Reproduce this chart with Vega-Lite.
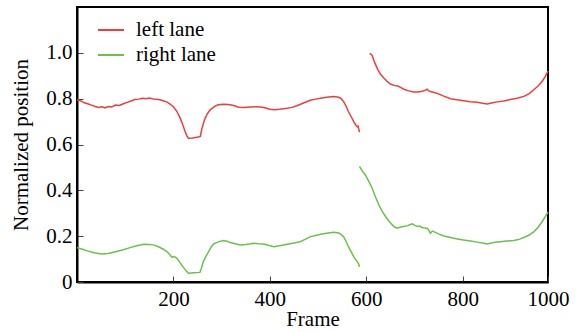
{
  "$schema": "https://vega.github.io/schema/vega-lite/v6.json",
  "width": 471,
  "height": 275,
  "autosize": {"type": "none"},
  "padding": {"left": 77, "top": 7, "right": 36, "bottom": 50},
  "background": "white",
  "config": {
    "font": "Liberation Serif",
    "view": {"stroke": "#000", "strokeWidth": 2},
    "axis": {
      "labelFont": "Liberation Serif",
      "titleFont": "Liberation Serif",
      "labelFontSize": 21,
      "titleFontSize": 21,
      "titleFontWeight": "normal",
      "labelColor": "#000",
      "titleColor": "#000",
      "domainColor": "#000",
      "domainWidth": 2,
      "tickColor": "#444",
      "tickWidth": 1,
      "tickSize": -6,
      "grid": false
    },
    "legend": {
      "labelFont": "Liberation Serif",
      "labelFontSize": 21,
      "labelColor": "#000"
    }
  },
  "data": {
    "values": [
      {"lane": "left lane", "seg": "a", "frame": 0, "pos": 0.795},
      {"lane": "left lane", "seg": "a", "frame": 8, "pos": 0.79},
      {"lane": "left lane", "seg": "a", "frame": 15, "pos": 0.782},
      {"lane": "left lane", "seg": "a", "frame": 22, "pos": 0.778},
      {"lane": "left lane", "seg": "a", "frame": 30, "pos": 0.772},
      {"lane": "left lane", "seg": "a", "frame": 38, "pos": 0.766},
      {"lane": "left lane", "seg": "a", "frame": 45, "pos": 0.762},
      {"lane": "left lane", "seg": "a", "frame": 52, "pos": 0.765},
      {"lane": "left lane", "seg": "a", "frame": 58, "pos": 0.76},
      {"lane": "left lane", "seg": "a", "frame": 65, "pos": 0.766},
      {"lane": "left lane", "seg": "a", "frame": 72, "pos": 0.764},
      {"lane": "left lane", "seg": "a", "frame": 80, "pos": 0.772},
      {"lane": "left lane", "seg": "a", "frame": 88, "pos": 0.77},
      {"lane": "left lane", "seg": "a", "frame": 96, "pos": 0.778},
      {"lane": "left lane", "seg": "a", "frame": 104, "pos": 0.784},
      {"lane": "left lane", "seg": "a", "frame": 112, "pos": 0.79},
      {"lane": "left lane", "seg": "a", "frame": 120, "pos": 0.796},
      {"lane": "left lane", "seg": "a", "frame": 128, "pos": 0.798},
      {"lane": "left lane", "seg": "a", "frame": 136, "pos": 0.802},
      {"lane": "left lane", "seg": "a", "frame": 143, "pos": 0.8},
      {"lane": "left lane", "seg": "a", "frame": 150, "pos": 0.803},
      {"lane": "left lane", "seg": "a", "frame": 158, "pos": 0.799},
      {"lane": "left lane", "seg": "a", "frame": 165, "pos": 0.797},
      {"lane": "left lane", "seg": "a", "frame": 172, "pos": 0.795},
      {"lane": "left lane", "seg": "a", "frame": 180, "pos": 0.79},
      {"lane": "left lane", "seg": "a", "frame": 187, "pos": 0.785},
      {"lane": "left lane", "seg": "a", "frame": 193, "pos": 0.776},
      {"lane": "left lane", "seg": "a", "frame": 200, "pos": 0.765},
      {"lane": "left lane", "seg": "a", "frame": 207, "pos": 0.745},
      {"lane": "left lane", "seg": "a", "frame": 214, "pos": 0.715},
      {"lane": "left lane", "seg": "a", "frame": 220, "pos": 0.683},
      {"lane": "left lane", "seg": "a", "frame": 224, "pos": 0.658},
      {"lane": "left lane", "seg": "a", "frame": 228, "pos": 0.638},
      {"lane": "left lane", "seg": "a", "frame": 231, "pos": 0.627},
      {"lane": "left lane", "seg": "a", "frame": 240, "pos": 0.628},
      {"lane": "left lane", "seg": "a", "frame": 252, "pos": 0.633},
      {"lane": "left lane", "seg": "a", "frame": 256, "pos": 0.636},
      {"lane": "left lane", "seg": "a", "frame": 259, "pos": 0.668},
      {"lane": "left lane", "seg": "a", "frame": 264, "pos": 0.705},
      {"lane": "left lane", "seg": "a", "frame": 269, "pos": 0.729},
      {"lane": "left lane", "seg": "a", "frame": 275, "pos": 0.748},
      {"lane": "left lane", "seg": "a", "frame": 280, "pos": 0.758},
      {"lane": "left lane", "seg": "a", "frame": 287, "pos": 0.768},
      {"lane": "left lane", "seg": "a", "frame": 293, "pos": 0.773},
      {"lane": "left lane", "seg": "a", "frame": 304, "pos": 0.776},
      {"lane": "left lane", "seg": "a", "frame": 314, "pos": 0.775},
      {"lane": "left lane", "seg": "a", "frame": 325, "pos": 0.77},
      {"lane": "left lane", "seg": "a", "frame": 335, "pos": 0.763},
      {"lane": "left lane", "seg": "a", "frame": 347, "pos": 0.762},
      {"lane": "left lane", "seg": "a", "frame": 359, "pos": 0.764},
      {"lane": "left lane", "seg": "a", "frame": 370, "pos": 0.765},
      {"lane": "left lane", "seg": "a", "frame": 380, "pos": 0.764},
      {"lane": "left lane", "seg": "a", "frame": 390, "pos": 0.76},
      {"lane": "left lane", "seg": "a", "frame": 400, "pos": 0.754},
      {"lane": "left lane", "seg": "a", "frame": 410, "pos": 0.752},
      {"lane": "left lane", "seg": "a", "frame": 420, "pos": 0.754},
      {"lane": "left lane", "seg": "a", "frame": 436, "pos": 0.758},
      {"lane": "left lane", "seg": "a", "frame": 446, "pos": 0.762},
      {"lane": "left lane", "seg": "a", "frame": 456, "pos": 0.769},
      {"lane": "left lane", "seg": "a", "frame": 470, "pos": 0.781},
      {"lane": "left lane", "seg": "a", "frame": 484, "pos": 0.793},
      {"lane": "left lane", "seg": "a", "frame": 495, "pos": 0.798},
      {"lane": "left lane", "seg": "a", "frame": 505, "pos": 0.802},
      {"lane": "left lane", "seg": "a", "frame": 518, "pos": 0.806},
      {"lane": "left lane", "seg": "a", "frame": 532, "pos": 0.809},
      {"lane": "left lane", "seg": "a", "frame": 543, "pos": 0.806},
      {"lane": "left lane", "seg": "a", "frame": 548, "pos": 0.8},
      {"lane": "left lane", "seg": "a", "frame": 553, "pos": 0.787},
      {"lane": "left lane", "seg": "a", "frame": 558, "pos": 0.768},
      {"lane": "left lane", "seg": "a", "frame": 563, "pos": 0.744},
      {"lane": "left lane", "seg": "a", "frame": 569, "pos": 0.72},
      {"lane": "left lane", "seg": "a", "frame": 574, "pos": 0.7},
      {"lane": "left lane", "seg": "a", "frame": 578, "pos": 0.686},
      {"lane": "left lane", "seg": "a", "frame": 581, "pos": 0.678},
      {"lane": "left lane", "seg": "a", "frame": 583, "pos": 0.68},
      {"lane": "left lane", "seg": "a", "frame": 586, "pos": 0.654},
      {"lane": "left lane", "seg": "b", "frame": 607, "pos": 0.997},
      {"lane": "left lane", "seg": "b", "frame": 609, "pos": 0.995},
      {"lane": "left lane", "seg": "b", "frame": 612, "pos": 0.99},
      {"lane": "left lane", "seg": "b", "frame": 618, "pos": 0.955},
      {"lane": "left lane", "seg": "b", "frame": 624, "pos": 0.927},
      {"lane": "left lane", "seg": "b", "frame": 630, "pos": 0.905},
      {"lane": "left lane", "seg": "b", "frame": 636, "pos": 0.891},
      {"lane": "left lane", "seg": "b", "frame": 643, "pos": 0.876},
      {"lane": "left lane", "seg": "b", "frame": 650, "pos": 0.864},
      {"lane": "left lane", "seg": "b", "frame": 658, "pos": 0.858},
      {"lane": "left lane", "seg": "b", "frame": 667, "pos": 0.854},
      {"lane": "left lane", "seg": "b", "frame": 672, "pos": 0.848},
      {"lane": "left lane", "seg": "b", "frame": 678, "pos": 0.841},
      {"lane": "left lane", "seg": "b", "frame": 688, "pos": 0.834},
      {"lane": "left lane", "seg": "b", "frame": 698, "pos": 0.829},
      {"lane": "left lane", "seg": "b", "frame": 707, "pos": 0.829},
      {"lane": "left lane", "seg": "b", "frame": 716, "pos": 0.832},
      {"lane": "left lane", "seg": "b", "frame": 722, "pos": 0.836},
      {"lane": "left lane", "seg": "b", "frame": 726, "pos": 0.841},
      {"lane": "left lane", "seg": "b", "frame": 729, "pos": 0.835},
      {"lane": "left lane", "seg": "b", "frame": 733, "pos": 0.831},
      {"lane": "left lane", "seg": "b", "frame": 741, "pos": 0.827},
      {"lane": "left lane", "seg": "b", "frame": 750, "pos": 0.821},
      {"lane": "left lane", "seg": "b", "frame": 762, "pos": 0.81},
      {"lane": "left lane", "seg": "b", "frame": 775, "pos": 0.8},
      {"lane": "left lane", "seg": "b", "frame": 788, "pos": 0.795},
      {"lane": "left lane", "seg": "b", "frame": 802, "pos": 0.791},
      {"lane": "left lane", "seg": "b", "frame": 816, "pos": 0.787},
      {"lane": "left lane", "seg": "b", "frame": 830, "pos": 0.784},
      {"lane": "left lane", "seg": "b", "frame": 841, "pos": 0.78},
      {"lane": "left lane", "seg": "b", "frame": 851, "pos": 0.777},
      {"lane": "left lane", "seg": "b", "frame": 862, "pos": 0.782},
      {"lane": "left lane", "seg": "b", "frame": 872, "pos": 0.786},
      {"lane": "left lane", "seg": "b", "frame": 885, "pos": 0.79},
      {"lane": "left lane", "seg": "b", "frame": 899, "pos": 0.796},
      {"lane": "left lane", "seg": "b", "frame": 913, "pos": 0.802},
      {"lane": "left lane", "seg": "b", "frame": 927, "pos": 0.81},
      {"lane": "left lane", "seg": "b", "frame": 938, "pos": 0.822},
      {"lane": "left lane", "seg": "b", "frame": 948, "pos": 0.84},
      {"lane": "left lane", "seg": "b", "frame": 957, "pos": 0.856},
      {"lane": "left lane", "seg": "b", "frame": 965, "pos": 0.876},
      {"lane": "left lane", "seg": "b", "frame": 971, "pos": 0.895},
      {"lane": "left lane", "seg": "b", "frame": 977, "pos": 0.92},
      {"lane": "right lane", "seg": "a", "frame": 0, "pos": 0.15},
      {"lane": "right lane", "seg": "a", "frame": 10, "pos": 0.144},
      {"lane": "right lane", "seg": "a", "frame": 20, "pos": 0.137},
      {"lane": "right lane", "seg": "a", "frame": 35, "pos": 0.128},
      {"lane": "right lane", "seg": "a", "frame": 51, "pos": 0.122},
      {"lane": "right lane", "seg": "a", "frame": 65, "pos": 0.124},
      {"lane": "right lane", "seg": "a", "frame": 82, "pos": 0.133},
      {"lane": "right lane", "seg": "a", "frame": 96, "pos": 0.141},
      {"lane": "right lane", "seg": "a", "frame": 110, "pos": 0.15},
      {"lane": "right lane", "seg": "a", "frame": 124, "pos": 0.158},
      {"lane": "right lane", "seg": "a", "frame": 138, "pos": 0.165},
      {"lane": "right lane", "seg": "a", "frame": 150, "pos": 0.164},
      {"lane": "right lane", "seg": "a", "frame": 158, "pos": 0.162},
      {"lane": "right lane", "seg": "a", "frame": 168, "pos": 0.155},
      {"lane": "right lane", "seg": "a", "frame": 179, "pos": 0.143},
      {"lane": "right lane", "seg": "a", "frame": 187, "pos": 0.132},
      {"lane": "right lane", "seg": "a", "frame": 193, "pos": 0.118},
      {"lane": "right lane", "seg": "a", "frame": 197, "pos": 0.108},
      {"lane": "right lane", "seg": "a", "frame": 200, "pos": 0.111},
      {"lane": "right lane", "seg": "a", "frame": 204, "pos": 0.108},
      {"lane": "right lane", "seg": "a", "frame": 207, "pos": 0.104},
      {"lane": "right lane", "seg": "a", "frame": 212, "pos": 0.09},
      {"lane": "right lane", "seg": "a", "frame": 217, "pos": 0.074},
      {"lane": "right lane", "seg": "a", "frame": 224, "pos": 0.055},
      {"lane": "right lane", "seg": "a", "frame": 231, "pos": 0.038},
      {"lane": "right lane", "seg": "a", "frame": 243, "pos": 0.04},
      {"lane": "right lane", "seg": "a", "frame": 255, "pos": 0.042},
      {"lane": "right lane", "seg": "a", "frame": 258, "pos": 0.06},
      {"lane": "right lane", "seg": "a", "frame": 262, "pos": 0.089},
      {"lane": "right lane", "seg": "a", "frame": 267, "pos": 0.11},
      {"lane": "right lane", "seg": "a", "frame": 273, "pos": 0.133},
      {"lane": "right lane", "seg": "a", "frame": 278, "pos": 0.152},
      {"lane": "right lane", "seg": "a", "frame": 283, "pos": 0.165},
      {"lane": "right lane", "seg": "a", "frame": 293, "pos": 0.175},
      {"lane": "right lane", "seg": "a", "frame": 304, "pos": 0.181},
      {"lane": "right lane", "seg": "a", "frame": 311, "pos": 0.178},
      {"lane": "right lane", "seg": "a", "frame": 318, "pos": 0.172},
      {"lane": "right lane", "seg": "a", "frame": 328, "pos": 0.167},
      {"lane": "right lane", "seg": "a", "frame": 339, "pos": 0.162},
      {"lane": "right lane", "seg": "a", "frame": 350, "pos": 0.164},
      {"lane": "right lane", "seg": "a", "frame": 358, "pos": 0.166},
      {"lane": "right lane", "seg": "a", "frame": 366, "pos": 0.169},
      {"lane": "right lane", "seg": "a", "frame": 376, "pos": 0.167},
      {"lane": "right lane", "seg": "a", "frame": 387, "pos": 0.166},
      {"lane": "right lane", "seg": "a", "frame": 397, "pos": 0.16},
      {"lane": "right lane", "seg": "a", "frame": 408, "pos": 0.154},
      {"lane": "right lane", "seg": "a", "frame": 420, "pos": 0.158},
      {"lane": "right lane", "seg": "a", "frame": 436, "pos": 0.165},
      {"lane": "right lane", "seg": "a", "frame": 450, "pos": 0.17},
      {"lane": "right lane", "seg": "a", "frame": 463, "pos": 0.176},
      {"lane": "right lane", "seg": "a", "frame": 473, "pos": 0.186},
      {"lane": "right lane", "seg": "a", "frame": 484, "pos": 0.198},
      {"lane": "right lane", "seg": "a", "frame": 495, "pos": 0.203},
      {"lane": "right lane", "seg": "a", "frame": 505, "pos": 0.208},
      {"lane": "right lane", "seg": "a", "frame": 518, "pos": 0.213},
      {"lane": "right lane", "seg": "a", "frame": 532, "pos": 0.217},
      {"lane": "right lane", "seg": "a", "frame": 543, "pos": 0.214},
      {"lane": "right lane", "seg": "a", "frame": 548, "pos": 0.207},
      {"lane": "right lane", "seg": "a", "frame": 553, "pos": 0.198},
      {"lane": "right lane", "seg": "a", "frame": 558, "pos": 0.178},
      {"lane": "right lane", "seg": "a", "frame": 563, "pos": 0.154},
      {"lane": "right lane", "seg": "a", "frame": 569, "pos": 0.13},
      {"lane": "right lane", "seg": "a", "frame": 574, "pos": 0.111},
      {"lane": "right lane", "seg": "a", "frame": 578, "pos": 0.098},
      {"lane": "right lane", "seg": "a", "frame": 581, "pos": 0.089},
      {"lane": "right lane", "seg": "a", "frame": 584, "pos": 0.08},
      {"lane": "right lane", "seg": "a", "frame": 586, "pos": 0.067},
      {"lane": "right lane", "seg": "b", "frame": 586, "pos": 0.504},
      {"lane": "right lane", "seg": "b", "frame": 590, "pos": 0.49},
      {"lane": "right lane", "seg": "b", "frame": 594, "pos": 0.478},
      {"lane": "right lane", "seg": "b", "frame": 598, "pos": 0.468},
      {"lane": "right lane", "seg": "b", "frame": 605, "pos": 0.44},
      {"lane": "right lane", "seg": "b", "frame": 612, "pos": 0.41},
      {"lane": "right lane", "seg": "b", "frame": 619, "pos": 0.372},
      {"lane": "right lane", "seg": "b", "frame": 626, "pos": 0.337},
      {"lane": "right lane", "seg": "b", "frame": 633, "pos": 0.308},
      {"lane": "right lane", "seg": "b", "frame": 640, "pos": 0.286},
      {"lane": "right lane", "seg": "b", "frame": 647, "pos": 0.266},
      {"lane": "right lane", "seg": "b", "frame": 654, "pos": 0.249},
      {"lane": "right lane", "seg": "b", "frame": 659, "pos": 0.24},
      {"lane": "right lane", "seg": "b", "frame": 664, "pos": 0.235},
      {"lane": "right lane", "seg": "b", "frame": 671, "pos": 0.24},
      {"lane": "right lane", "seg": "b", "frame": 678, "pos": 0.242},
      {"lane": "right lane", "seg": "b", "frame": 686, "pos": 0.246},
      {"lane": "right lane", "seg": "b", "frame": 690, "pos": 0.25},
      {"lane": "right lane", "seg": "b", "frame": 695, "pos": 0.254},
      {"lane": "right lane", "seg": "b", "frame": 700, "pos": 0.248},
      {"lane": "right lane", "seg": "b", "frame": 706, "pos": 0.242},
      {"lane": "right lane", "seg": "b", "frame": 711, "pos": 0.244},
      {"lane": "right lane", "seg": "b", "frame": 716, "pos": 0.238},
      {"lane": "right lane", "seg": "b", "frame": 721, "pos": 0.236},
      {"lane": "right lane", "seg": "b", "frame": 726, "pos": 0.235},
      {"lane": "right lane", "seg": "b", "frame": 729, "pos": 0.228},
      {"lane": "right lane", "seg": "b", "frame": 733, "pos": 0.213},
      {"lane": "right lane", "seg": "b", "frame": 737, "pos": 0.222},
      {"lane": "right lane", "seg": "b", "frame": 740, "pos": 0.22},
      {"lane": "right lane", "seg": "b", "frame": 750, "pos": 0.21},
      {"lane": "right lane", "seg": "b", "frame": 761, "pos": 0.201},
      {"lane": "right lane", "seg": "b", "frame": 775, "pos": 0.194},
      {"lane": "right lane", "seg": "b", "frame": 789, "pos": 0.188},
      {"lane": "right lane", "seg": "b", "frame": 802, "pos": 0.183},
      {"lane": "right lane", "seg": "b", "frame": 816, "pos": 0.179},
      {"lane": "right lane", "seg": "b", "frame": 830, "pos": 0.174},
      {"lane": "right lane", "seg": "b", "frame": 841, "pos": 0.17},
      {"lane": "right lane", "seg": "b", "frame": 851, "pos": 0.166},
      {"lane": "right lane", "seg": "b", "frame": 864, "pos": 0.172},
      {"lane": "right lane", "seg": "b", "frame": 878, "pos": 0.176},
      {"lane": "right lane", "seg": "b", "frame": 892, "pos": 0.179},
      {"lane": "right lane", "seg": "b", "frame": 906, "pos": 0.181},
      {"lane": "right lane", "seg": "b", "frame": 917, "pos": 0.186},
      {"lane": "right lane", "seg": "b", "frame": 927, "pos": 0.194},
      {"lane": "right lane", "seg": "b", "frame": 938, "pos": 0.205},
      {"lane": "right lane", "seg": "b", "frame": 948, "pos": 0.22},
      {"lane": "right lane", "seg": "b", "frame": 957, "pos": 0.24},
      {"lane": "right lane", "seg": "b", "frame": 965, "pos": 0.264},
      {"lane": "right lane", "seg": "b", "frame": 971, "pos": 0.284},
      {"lane": "right lane", "seg": "b", "frame": 977, "pos": 0.305}
    ]
  },
  "mark": {"type": "line", "strokeWidth": 1.5, "interpolate": "linear"},
  "encoding": {
    "x": {
      "field": "frame",
      "type": "quantitative",
      "scale": {"domain": [0, 977], "nice": false, "zero": false},
      "axis": {
        "title": "Frame",
        "values": [200, 400, 600, 800, 977],
        "labelExpr": "datum.value > 900 ? '1000' : datum.label",
        "labelPadding": 12,
        "titlePadding": -1,
        "labelFlush": false
      }
    },
    "y": {
      "field": "pos",
      "type": "quantitative",
      "scale": {"domain": [0, 1.2], "nice": false},
      "axis": {
        "title": "Normalized position",
        "values": [0, 0.2, 0.4, 0.6, 0.8, 1.0],
        "labelExpr": "datum.value == 0 ? '0' : format(datum.value, '.1f')",
        "labelPadding": 11,
        "titlePadding": 14,
        "labelFlush": false
      }
    },
    "color": {
      "field": "lane",
      "type": "nominal",
      "scale": {"domain": ["left lane", "right lane"], "range": ["#f03c3c", "#6cc04c"]},
      "legend": {
        "title": null,
        "orient": "none",
        "legendX": 20,
        "legendY": 9,
        "symbolType": "stroke",
        "symbolSize": 676,
        "symbolStrokeWidth": 2,
        "labelOffset": 11,
        "rowPadding": 1,
        "padding": 0
      }
    },
    "detail": {"field": "seg", "type": "nominal"}
  }
}
